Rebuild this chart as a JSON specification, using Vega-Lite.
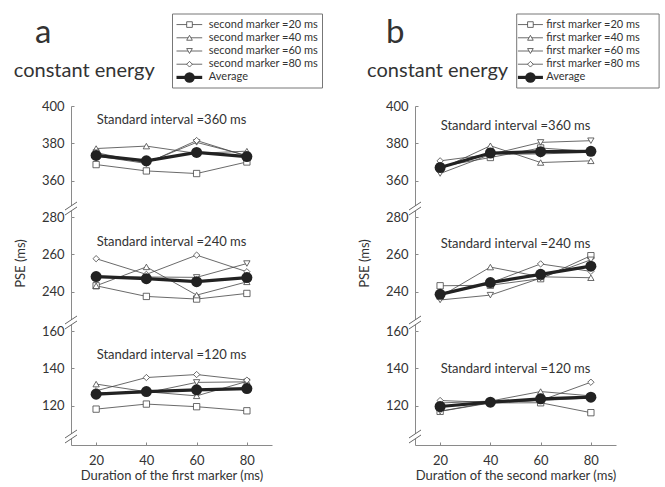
{
"$schema": "https://vega.github.io/schema/vega-lite/v6.json",
"padding": {"left": 13, "top": 13, "right": 2, "bottom": 2},
"config": {
  "font": "Lato",
  "view": {"stroke": null},
  "axis": {"domainColor": "#8a8a8a", "tickColor": "#8a8a8a", "tickSize": -3, "labelColor": "#333", "labelFont": "Lato", "labelFontSize": 13, "titleFont": "Lato", "titleFontSize": 13, "titleFontWeight": "normal", "titleColor": "#333", "grid": false, "labelFlush": false},
  "axisY": {"labelPadding": 10},
  "axisX": {"labelPadding": 12, "titlePadding": 2},
  "title": {"font": "Lato", "fontWeight": "normal", "color": "#333", "fontSize": 13, "anchor": "middle", "frame": "group"}
},
"datasets": {
  "lega": [
    {"m": "20", "label": "second marker =20 ms"},
    {"m": "40", "label": "second marker =40 ms"},
    {"m": "60", "label": "second marker =60 ms"},
    {"m": "80", "label": "second marker =80 ms"},
    {"m": "Average", "label": "Average"}
  ],
  "legb": [
    {"m": "20", "label": "first marker =20 ms"},
    {"m": "40", "label": "first marker =40 ms"},
    {"m": "60", "label": "first marker =60 ms"},
    {"m": "80", "label": "first marker =80 ms"},
    {"m": "Average", "label": "Average"}
  ],
  "pse": [
    {"p":"a","s":360,"m":"20","x":20,"v":368.6},{"p":"a","s":360,"m":"20","x":40,"v":365.2},{"p":"a","s":360,"m":"20","x":60,"v":363.8},{"p":"a","s":360,"m":"20","x":80,"v":370.0},
    {"p":"a","s":360,"m":"40","x":20,"v":377.2},{"p":"a","s":360,"m":"40","x":40,"v":378.5},{"p":"a","s":360,"m":"40","x":60,"v":374.6},{"p":"a","s":360,"m":"40","x":80,"v":375.8},
    {"p":"a","s":360,"m":"60","x":20,"v":375.0},{"p":"a","s":360,"m":"60","x":40,"v":369.5},{"p":"a","s":360,"m":"60","x":60,"v":380.5},{"p":"a","s":360,"m":"60","x":80,"v":373.5},
    {"p":"a","s":360,"m":"80","x":20,"v":373.2},{"p":"a","s":360,"m":"80","x":40,"v":369.2},{"p":"a","s":360,"m":"80","x":60,"v":381.5},{"p":"a","s":360,"m":"80","x":80,"v":373.1},
    {"p":"a","s":360,"m":"Average","x":20,"v":373.5},{"p":"a","s":360,"m":"Average","x":40,"v":370.6},{"p":"a","s":360,"m":"Average","x":60,"v":375.1},{"p":"a","s":360,"m":"Average","x":80,"v":372.9},

    {"p":"a","s":240,"m":"20","x":20,"v":243.2},{"p":"a","s":240,"m":"20","x":40,"v":237.5},{"p":"a","s":240,"m":"20","x":60,"v":236.1},{"p":"a","s":240,"m":"20","x":80,"v":239.1},
    {"p":"a","s":240,"m":"40","x":20,"v":243.2},{"p":"a","s":240,"m":"40","x":40,"v":253.3},{"p":"a","s":240,"m":"40","x":60,"v":238.2},{"p":"a","s":240,"m":"40","x":80,"v":245.3},
    {"p":"a","s":240,"m":"60","x":20,"v":248.3},{"p":"a","s":240,"m":"60","x":40,"v":247.9},{"p":"a","s":240,"m":"60","x":60,"v":247.7},{"p":"a","s":240,"m":"60","x":80,"v":255.1},
    {"p":"a","s":240,"m":"80","x":20,"v":257.7},{"p":"a","s":240,"m":"80","x":40,"v":249.3},{"p":"a","s":240,"m":"80","x":60,"v":259.6},{"p":"a","s":240,"m":"80","x":80,"v":250.7},
    {"p":"a","s":240,"m":"Average","x":20,"v":248.1},{"p":"a","s":240,"m":"Average","x":40,"v":247.0},{"p":"a","s":240,"m":"Average","x":60,"v":245.4},{"p":"a","s":240,"m":"Average","x":80,"v":247.6},

    {"p":"a","s":120,"m":"20","x":20,"v":118.2},{"p":"a","s":120,"m":"20","x":40,"v":120.9},{"p":"a","s":120,"m":"20","x":60,"v":119.5},{"p":"a","s":120,"m":"20","x":80,"v":117.3},
    {"p":"a","s":120,"m":"40","x":20,"v":131.6},{"p":"a","s":120,"m":"40","x":40,"v":127.5},{"p":"a","s":120,"m":"40","x":60,"v":125.3},{"p":"a","s":120,"m":"40","x":80,"v":133.0},
    {"p":"a","s":120,"m":"60","x":20,"v":127.0},{"p":"a","s":120,"m":"60","x":40,"v":126.9},{"p":"a","s":120,"m":"60","x":60,"v":132.5},{"p":"a","s":120,"m":"60","x":80,"v":132.8},
    {"p":"a","s":120,"m":"80","x":20,"v":128.0},{"p":"a","s":120,"m":"80","x":40,"v":135.1},{"p":"a","s":120,"m":"80","x":60,"v":136.7},{"p":"a","s":120,"m":"80","x":80,"v":133.7},
    {"p":"a","s":120,"m":"Average","x":20,"v":126.2},{"p":"a","s":120,"m":"Average","x":40,"v":127.6},{"p":"a","s":120,"m":"Average","x":60,"v":128.5},{"p":"a","s":120,"m":"Average","x":80,"v":129.2},

    {"p":"b","s":360,"m":"20","x":20,"v":367.5},{"p":"b","s":360,"m":"20","x":40,"v":372.4},{"p":"b","s":360,"m":"20","x":60,"v":377.5},{"p":"b","s":360,"m":"20","x":80,"v":375.6},
    {"p":"b","s":360,"m":"40","x":20,"v":366.1},{"p":"b","s":360,"m":"40","x":40,"v":378.7},{"p":"b","s":360,"m":"40","x":60,"v":369.7},{"p":"b","s":360,"m":"40","x":80,"v":370.6},
    {"p":"b","s":360,"m":"60","x":20,"v":363.8},{"p":"b","s":360,"m":"60","x":40,"v":374.0},{"p":"b","s":360,"m":"60","x":60,"v":380.5},{"p":"b","s":360,"m":"60","x":80,"v":381.4},
    {"p":"b","s":360,"m":"80","x":20,"v":370.6},{"p":"b","s":360,"m":"80","x":40,"v":374.1},{"p":"b","s":360,"m":"80","x":60,"v":374.3},{"p":"b","s":360,"m":"80","x":80,"v":375.2},
    {"p":"b","s":360,"m":"Average","x":20,"v":367.0},{"p":"b","s":360,"m":"Average","x":40,"v":374.8},{"p":"b","s":360,"m":"Average","x":60,"v":375.5},{"p":"b","s":360,"m":"Average","x":80,"v":375.7},

    {"p":"b","s":240,"m":"20","x":20,"v":243.2},{"p":"b","s":240,"m":"20","x":40,"v":243.5},{"p":"b","s":240,"m":"20","x":60,"v":247.0},{"p":"b","s":240,"m":"20","x":80,"v":259.3},
    {"p":"b","s":240,"m":"40","x":20,"v":237.4},{"p":"b","s":240,"m":"40","x":40,"v":253.2},{"p":"b","s":240,"m":"40","x":60,"v":248.0},{"p":"b","s":240,"m":"40","x":80,"v":247.5},
    {"p":"b","s":240,"m":"60","x":20,"v":235.6},{"p":"b","s":240,"m":"60","x":40,"v":238.2},{"p":"b","s":240,"m":"60","x":60,"v":247.3},{"p":"b","s":240,"m":"60","x":80,"v":257.1},
    {"p":"b","s":240,"m":"80","x":20,"v":238.2},{"p":"b","s":240,"m":"80","x":40,"v":244.7},{"p":"b","s":240,"m":"80","x":60,"v":254.9},{"p":"b","s":240,"m":"80","x":80,"v":250.9},
    {"p":"b","s":240,"m":"Average","x":20,"v":238.6},{"p":"b","s":240,"m":"Average","x":40,"v":244.9},{"p":"b","s":240,"m":"Average","x":60,"v":249.3},{"p":"b","s":240,"m":"Average","x":80,"v":253.7},

    {"p":"b","s":120,"m":"20","x":20,"v":117.0},{"p":"b","s":120,"m":"20","x":40,"v":121.5},{"p":"b","s":120,"m":"20","x":60,"v":121.6},{"p":"b","s":120,"m":"20","x":80,"v":116.3},
    {"p":"b","s":120,"m":"40","x":20,"v":121.5},{"p":"b","s":120,"m":"40","x":40,"v":122.5},{"p":"b","s":120,"m":"40","x":60,"v":127.6},{"p":"b","s":120,"m":"40","x":80,"v":125.3},
    {"p":"b","s":120,"m":"60","x":20,"v":117.1},{"p":"b","s":120,"m":"60","x":40,"v":121.8},{"p":"b","s":120,"m":"60","x":60,"v":122.8},{"p":"b","s":120,"m":"60","x":80,"v":124.2},
    {"p":"b","s":120,"m":"80","x":20,"v":122.8},{"p":"b","s":120,"m":"80","x":40,"v":121.8},{"p":"b","s":120,"m":"80","x":60,"v":122.8},{"p":"b","s":120,"m":"80","x":80,"v":132.6},
    {"p":"b","s":120,"m":"Average","x":20,"v":119.6},{"p":"b","s":120,"m":"Average","x":40,"v":121.9},{"p":"b","s":120,"m":"Average","x":60,"v":123.7},{"p":"b","s":120,"m":"Average","x":80,"v":124.6}
  ]
},
"spacing": 34,
"hconcat": [
  {
    "title": {"text": "a", "anchor": "start", "frame": "group", "fontSize": 33, "offset": 0, "dx": -36, "dy": 36},
    "spacing": 11,
    "vconcat": [
      {
        "width": 251.5, "height": 74,
        "data": {"name": "lega"},
        "title": {"text": "constant energy", "anchor": "start", "frame": "group", "fontSize": 20, "offset": 0, "dx": -57.2, "dy": 67.3},
        "layer": [
          {"data": {"values": [{}]}, "mark": {"type": "rect", "filled": false, "color": "#777", "strokeWidth": 1}, "encoding": {"x": {"datum": 0.4036, "type": "quantitative", "scale": {"domain": [0, 1]}, "axis": null}, "x2": {"datum": 1}}},
          {"transform": [{"filter": "datum.m !== 'Average'"}], "mark": {"type": "rule", "stroke": "#444", "strokeWidth": 0.8}, "encoding": {"x": {"datum": 0.4195, "type": "quantitative", "axis": null}, "x2": {"datum": 0.5217}, "y": {"field": "m", "type": "nominal", "scale": {"type": "point", "domain": ["20","40","60","80","Average"], "padding": 0.8}, "axis": null}}},
          {"transform": [{"filter": "datum.m === 'Average'"}], "mark": {"type": "rule", "stroke": "#222", "strokeWidth": 3.2}, "encoding": {"x": {"datum": 0.4195, "type": "quantitative", "axis": null}, "x2": {"datum": 0.5217}, "y": {"field": "m", "type": "nominal", "axis": null}}},
          {"transform": [{"filter": "datum.m !== 'Average'"}], "mark": {"type": "point", "filled": true, "fill": "white", "stroke": "#444", "strokeWidth": 0.8, "size": 32, "opacity": 1}, "encoding": {"x": {"datum": 0.4712, "type": "quantitative", "axis": null}, "y": {"field": "m", "type": "nominal", "axis": null}, "shape": {"field": "m", "type": "nominal", "scale": {"domain": ["20","40","60","80"], "range": ["square","triangle-up","triangle-down","diamond"]}, "legend": null}}},
          {"transform": [{"filter": "datum.m === 'Average'"}], "mark": {"type": "point", "shape": "circle", "filled": true, "fill": "#222", "size": 110, "opacity": 1}, "encoding": {"x": {"datum": 0.4712, "type": "quantitative", "axis": null}, "y": {"field": "m", "type": "nominal", "axis": null}}},
          {"mark": {"type": "text", "align": "left", "baseline": "middle", "fontSize": 11, "font": "Lato", "color": "#333"}, "encoding": {"x": {"datum": 0.5479, "type": "quantitative", "axis": null}, "y": {"field": "m", "type": "nominal", "axis": null}, "text": {"field": "label"}}}
        ]
      },
      {
        "spacing": 0, "bounds": "flush",
        "vconcat": [
          {
            "width": 201, "height": 111,
            "data": {"name": "pse"},
            "title": {"text": "Standard interval =360 ms", "offset": -26.5},
            "layer": [
              {"transform": [{"filter": "datum.p === 'a' && datum.s === 360 && datum.m !== 'Average'"}], "mark": {"type": "line", "stroke": "#444", "strokeWidth": 0.8},
               "encoding": {"x": {"field": "x", "type": "quantitative", "scale": {"domain": [10, 90]}, "axis": null}, "y": {"field": "v", "type": "quantitative", "scale": {"domain": [340.5, 400], "nice": false, "zero": false}, "axis": {"values": [360, 380, 400], "title": null}}, "detail": {"field": "m"}}},
              {"transform": [{"filter": "datum.p === 'a' && datum.s === 360 && datum.m !== 'Average'"}], "mark": {"type": "point", "filled": true, "fill": "white", "stroke": "#444", "strokeWidth": 0.8, "size": 40, "opacity": 1},
               "encoding": {"x": {"field": "x", "type": "quantitative", "axis": null}, "y": {"field": "v", "type": "quantitative", "axis": {"values": [360, 380, 400], "title": null}}, "shape": {"field": "m", "type": "nominal", "scale": {"domain": ["20","40","60","80"], "range": ["square","triangle-up","triangle-down","diamond"]}, "legend": null}}},
              {"transform": [{"filter": "datum.p === 'a' && datum.s === 360 && datum.m === 'Average'"}], "mark": {"type": "line", "stroke": "#222", "strokeWidth": 3.2},
               "encoding": {"x": {"field": "x", "type": "quantitative", "axis": null}, "y": {"field": "v", "type": "quantitative", "axis": {"values": [360, 380, 400], "title": null}}}},
              {"transform": [{"filter": "datum.p === 'a' && datum.s === 360 && datum.m === 'Average'"}], "mark": {"type": "point", "shape": "circle", "filled": true, "fill": "#222", "size": 121, "opacity": 1},
               "encoding": {"x": {"field": "x", "type": "quantitative", "axis": null}, "y": {"field": "v", "type": "quantitative", "axis": {"values": [360, 380, 400], "title": null}}}},
              {"data": {"values": [{}]}, "mark": {"type": "point", "shape": "M0,-0.42L0,0.42", "size": 144, "filled": false, "stroke": "white", "strokeWidth": 3, "opacity": 1},
               "encoding": {"x": {"datum": 10, "type": "quantitative", "axis": null}, "y": {"datum": 345.05, "type": "quantitative", "axis": {"values": [360, 380, 400], "title": null}}}},
              {"data": {"values": [{}]}, "mark": {"type": "point", "shape": "M-1,0.25L1,-1.083M-1,1.083L1,-0.25", "size": 144, "filled": false, "stroke": "#666", "strokeWidth": 1, "opacity": 1},
               "encoding": {"x": {"datum": 10, "type": "quantitative", "axis": null}, "y": {"datum": 345.05, "type": "quantitative", "axis": {"values": [360, 380, 400], "title": null}}}}
            ]
          },
          {
            "width": 201, "height": 114,
            "data": {"name": "pse"},
            "title": {"text": "Standard interval =240 ms", "offset": -37.7},
            "layer": [
              {"transform": [{"filter": "datum.p === 'a' && datum.s === 240 && datum.m !== 'Average'"}], "mark": {"type": "line", "stroke": "#444", "strokeWidth": 0.8},
               "encoding": {"x": {"field": "x", "type": "quantitative", "scale": {"domain": [10, 90]}, "axis": null}, "y": {"field": "v", "type": "quantitative", "scale": {"domain": [219, 280], "nice": false, "zero": false}, "axis": {"values": [240, 260, 280], "title": "PSE (ms)", "titleX": -44, "titleY": 46}}, "detail": {"field": "m"}}},
              {"transform": [{"filter": "datum.p === 'a' && datum.s === 240 && datum.m !== 'Average'"}], "mark": {"type": "point", "filled": true, "fill": "white", "stroke": "#444", "strokeWidth": 0.8, "size": 40, "opacity": 1},
               "encoding": {"x": {"field": "x", "type": "quantitative", "axis": null}, "y": {"field": "v", "type": "quantitative", "axis": {"values": [240, 260, 280], "title": "PSE (ms)", "titleX": -44, "titleY": 46}}, "shape": {"field": "m", "type": "nominal", "scale": {"domain": ["20","40","60","80"], "range": ["square","triangle-up","triangle-down","diamond"]}, "legend": null}}},
              {"transform": [{"filter": "datum.p === 'a' && datum.s === 240 && datum.m === 'Average'"}], "mark": {"type": "line", "stroke": "#222", "strokeWidth": 3.2},
               "encoding": {"x": {"field": "x", "type": "quantitative", "axis": null}, "y": {"field": "v", "type": "quantitative", "axis": {"values": [240, 260, 280], "title": "PSE (ms)", "titleX": -44, "titleY": 46}}}},
              {"transform": [{"filter": "datum.p === 'a' && datum.s === 240 && datum.m === 'Average'"}], "mark": {"type": "point", "shape": "circle", "filled": true, "fill": "#222", "size": 121, "opacity": 1},
               "encoding": {"x": {"field": "x", "type": "quantitative", "axis": null}, "y": {"field": "v", "type": "quantitative", "axis": {"values": [240, 260, 280], "title": "PSE (ms)", "titleX": -44, "titleY": 46}}}},
              {"data": {"values": [{}]}, "mark": {"type": "point", "shape": "M0,-0.42L0,0.42", "size": 144, "filled": false, "stroke": "white", "strokeWidth": 3, "opacity": 1},
               "encoding": {"x": {"datum": 10, "type": "quantitative", "axis": null}, "y": {"datum": 223.55, "type": "quantitative", "axis": {"values": [240, 260, 280], "title": "PSE (ms)", "titleX": -44, "titleY": 46}}}},
              {"data": {"values": [{}]}, "mark": {"type": "point", "shape": "M-1,0.25L1,-1.083M-1,1.083L1,-0.25", "size": 144, "filled": false, "stroke": "#666", "strokeWidth": 1, "opacity": 1},
               "encoding": {"x": {"datum": 10, "type": "quantitative", "axis": null}, "y": {"datum": 223.55, "type": "quantitative", "axis": {"values": [240, 260, 280], "title": "PSE (ms)", "titleX": -44, "titleY": 46}}}}
            ]
          },
          {
            "width": 201, "height": 114,
            "data": {"name": "pse"},
            "title": {"text": "Standard interval =120 ms", "offset": -36.5},
            "layer": [
              {"transform": [{"filter": "datum.p === 'a' && datum.s === 120 && datum.m !== 'Average'"}], "mark": {"type": "line", "stroke": "#444", "strokeWidth": 0.8},
               "encoding": {"x": {"field": "x", "type": "quantitative", "scale": {"domain": [10, 90]}, "axis": {"values": [20, 40, 60, 80], "title": "Duration of the first marker (ms)"}}, "y": {"field": "v", "type": "quantitative", "scale": {"domain": [99, 160], "nice": false, "zero": false}, "axis": {"values": [120, 140, 160], "title": null}}, "detail": {"field": "m"}}},
              {"transform": [{"filter": "datum.p === 'a' && datum.s === 120 && datum.m !== 'Average'"}], "mark": {"type": "point", "filled": true, "fill": "white", "stroke": "#444", "strokeWidth": 0.8, "size": 40, "opacity": 1},
               "encoding": {"x": {"field": "x", "type": "quantitative", "axis": {"values": [20, 40, 60, 80], "title": "Duration of the first marker (ms)"}}, "y": {"field": "v", "type": "quantitative", "axis": {"values": [120, 140, 160], "title": null}}, "shape": {"field": "m", "type": "nominal", "scale": {"domain": ["20","40","60","80"], "range": ["square","triangle-up","triangle-down","diamond"]}, "legend": null}}},
              {"transform": [{"filter": "datum.p === 'a' && datum.s === 120 && datum.m === 'Average'"}], "mark": {"type": "line", "stroke": "#222", "strokeWidth": 3.2},
               "encoding": {"x": {"field": "x", "type": "quantitative", "axis": {"values": [20, 40, 60, 80], "title": "Duration of the first marker (ms)"}}, "y": {"field": "v", "type": "quantitative", "axis": {"values": [120, 140, 160], "title": null}}}},
              {"transform": [{"filter": "datum.p === 'a' && datum.s === 120 && datum.m === 'Average'"}], "mark": {"type": "point", "shape": "circle", "filled": true, "fill": "#222", "size": 121, "opacity": 1},
               "encoding": {"x": {"field": "x", "type": "quantitative", "axis": {"values": [20, 40, 60, 80], "title": "Duration of the first marker (ms)"}}, "y": {"field": "v", "type": "quantitative", "axis": {"values": [120, 140, 160], "title": null}}}},
              {"data": {"values": [{}]}, "mark": {"type": "point", "shape": "M0,-0.42L0,0.42", "size": 144, "filled": false, "stroke": "white", "strokeWidth": 3, "opacity": 1},
               "encoding": {"x": {"datum": 10, "type": "quantitative", "axis": {"values": [20, 40, 60, 80], "title": "Duration of the first marker (ms)"}}, "y": {"datum": 103.55, "type": "quantitative", "axis": {"values": [120, 140, 160], "title": null}}}},
              {"data": {"values": [{}]}, "mark": {"type": "point", "shape": "M-1,0.25L1,-1.083M-1,1.083L1,-0.25", "size": 144, "filled": false, "stroke": "#666", "strokeWidth": 1, "opacity": 1},
               "encoding": {"x": {"datum": 10, "type": "quantitative", "axis": {"values": [20, 40, 60, 80], "title": "Duration of the first marker (ms)"}}, "y": {"datum": 103.55, "type": "quantitative", "axis": {"values": [120, 140, 160], "title": null}}}}
            ]
          }
        ]
      }
    ]
  },
  {
    "title": {"text": "b", "anchor": "start", "frame": "group", "fontSize": 33, "offset": 0, "dx": -29, "dy": 36},
    "spacing": 11,
    "vconcat": [
      {
        "width": 244.1, "height": 74,
        "data": {"name": "legb"},
        "title": {"text": "constant energy", "anchor": "start", "frame": "group", "fontSize": 20, "offset": 0, "dx": -47.9, "dy": 67.3},
        "layer": [
          {"data": {"values": [{}]}, "mark": {"type": "rect", "filled": false, "color": "#777", "strokeWidth": 1}, "encoding": {"x": {"datum": 0.4166, "type": "quantitative", "scale": {"domain": [0, 1]}, "axis": null}, "x2": {"datum": 1}}},
          {"transform": [{"filter": "datum.m !== 'Average'"}], "mark": {"type": "rule", "stroke": "#444", "strokeWidth": 0.8}, "encoding": {"x": {"datum": 0.4216, "type": "quantitative", "axis": null}, "x2": {"datum": 0.5241}, "y": {"field": "m", "type": "nominal", "scale": {"type": "point", "domain": ["20","40","60","80","Average"], "padding": 0.8}, "axis": null}}},
          {"transform": [{"filter": "datum.m === 'Average'"}], "mark": {"type": "rule", "stroke": "#222", "strokeWidth": 3.2}, "encoding": {"x": {"datum": 0.4216, "type": "quantitative", "axis": null}, "x2": {"datum": 0.5241}, "y": {"field": "m", "type": "nominal", "axis": null}}},
          {"transform": [{"filter": "datum.m !== 'Average'"}], "mark": {"type": "point", "filled": true, "fill": "white", "stroke": "#444", "strokeWidth": 0.8, "size": 32, "opacity": 1}, "encoding": {"x": {"datum": 0.4728, "type": "quantitative", "axis": null}, "y": {"field": "m", "type": "nominal", "axis": null}, "shape": {"field": "m", "type": "nominal", "scale": {"domain": ["20","40","60","80"], "range": ["square","triangle-up","triangle-down","diamond"]}, "legend": null}}},
          {"transform": [{"filter": "datum.m === 'Average'"}], "mark": {"type": "point", "shape": "circle", "filled": true, "fill": "#222", "size": 110, "opacity": 1}, "encoding": {"x": {"datum": 0.4728, "type": "quantitative", "axis": null}, "y": {"field": "m", "type": "nominal", "axis": null}}},
          {"mark": {"type": "text", "align": "left", "baseline": "middle", "fontSize": 11, "font": "Lato", "color": "#333"}, "encoding": {"x": {"datum": 0.5372, "type": "quantitative", "axis": null}, "y": {"field": "m", "type": "nominal", "axis": null}, "text": {"field": "label"}}}
        ]
      },
      {
        "spacing": 0, "bounds": "flush",
        "vconcat": [
          {
            "width": 201, "height": 111,
            "data": {"name": "pse"},
            "title": {"text": "Standard interval =360 ms", "offset": -32.5},
            "layer": [
              {"transform": [{"filter": "datum.p === 'b' && datum.s === 360 && datum.m !== 'Average'"}], "mark": {"type": "line", "stroke": "#444", "strokeWidth": 0.8},
               "encoding": {"x": {"field": "x", "type": "quantitative", "scale": {"domain": [10, 90]}, "axis": null}, "y": {"field": "v", "type": "quantitative", "scale": {"domain": [340.5, 400], "nice": false, "zero": false}, "axis": {"values": [360, 380, 400], "title": null}}, "detail": {"field": "m"}}},
              {"transform": [{"filter": "datum.p === 'b' && datum.s === 360 && datum.m !== 'Average'"}], "mark": {"type": "point", "filled": true, "fill": "white", "stroke": "#444", "strokeWidth": 0.8, "size": 40, "opacity": 1},
               "encoding": {"x": {"field": "x", "type": "quantitative", "axis": null}, "y": {"field": "v", "type": "quantitative", "axis": {"values": [360, 380, 400], "title": null}}, "shape": {"field": "m", "type": "nominal", "scale": {"domain": ["20","40","60","80"], "range": ["square","triangle-up","triangle-down","diamond"]}, "legend": null}}},
              {"transform": [{"filter": "datum.p === 'b' && datum.s === 360 && datum.m === 'Average'"}], "mark": {"type": "line", "stroke": "#222", "strokeWidth": 3.2},
               "encoding": {"x": {"field": "x", "type": "quantitative", "axis": null}, "y": {"field": "v", "type": "quantitative", "axis": {"values": [360, 380, 400], "title": null}}}},
              {"transform": [{"filter": "datum.p === 'b' && datum.s === 360 && datum.m === 'Average'"}], "mark": {"type": "point", "shape": "circle", "filled": true, "fill": "#222", "size": 121, "opacity": 1},
               "encoding": {"x": {"field": "x", "type": "quantitative", "axis": null}, "y": {"field": "v", "type": "quantitative", "axis": {"values": [360, 380, 400], "title": null}}}},
              {"data": {"values": [{}]}, "mark": {"type": "point", "shape": "M0,-0.42L0,0.42", "size": 144, "filled": false, "stroke": "white", "strokeWidth": 3, "opacity": 1},
               "encoding": {"x": {"datum": 10, "type": "quantitative", "axis": null}, "y": {"datum": 345.05, "type": "quantitative", "axis": {"values": [360, 380, 400], "title": null}}}},
              {"data": {"values": [{}]}, "mark": {"type": "point", "shape": "M-1,0.25L1,-1.083M-1,1.083L1,-0.25", "size": 144, "filled": false, "stroke": "#666", "strokeWidth": 1, "opacity": 1},
               "encoding": {"x": {"datum": 10, "type": "quantitative", "axis": null}, "y": {"datum": 345.05, "type": "quantitative", "axis": {"values": [360, 380, 400], "title": null}}}}
            ]
          },
          {
            "width": 201, "height": 114,
            "data": {"name": "pse"},
            "title": {"text": "Standard interval =240 ms", "offset": -39.5},
            "layer": [
              {"transform": [{"filter": "datum.p === 'b' && datum.s === 240 && datum.m !== 'Average'"}], "mark": {"type": "line", "stroke": "#444", "strokeWidth": 0.8},
               "encoding": {"x": {"field": "x", "type": "quantitative", "scale": {"domain": [10, 90]}, "axis": null}, "y": {"field": "v", "type": "quantitative", "scale": {"domain": [219, 280], "nice": false, "zero": false}, "axis": {"values": [240, 260, 280], "title": "PSE (ms)", "titleX": -44, "titleY": 46}}, "detail": {"field": "m"}}},
              {"transform": [{"filter": "datum.p === 'b' && datum.s === 240 && datum.m !== 'Average'"}], "mark": {"type": "point", "filled": true, "fill": "white", "stroke": "#444", "strokeWidth": 0.8, "size": 40, "opacity": 1},
               "encoding": {"x": {"field": "x", "type": "quantitative", "axis": null}, "y": {"field": "v", "type": "quantitative", "axis": {"values": [240, 260, 280], "title": "PSE (ms)", "titleX": -44, "titleY": 46}}, "shape": {"field": "m", "type": "nominal", "scale": {"domain": ["20","40","60","80"], "range": ["square","triangle-up","triangle-down","diamond"]}, "legend": null}}},
              {"transform": [{"filter": "datum.p === 'b' && datum.s === 240 && datum.m === 'Average'"}], "mark": {"type": "line", "stroke": "#222", "strokeWidth": 3.2},
               "encoding": {"x": {"field": "x", "type": "quantitative", "axis": null}, "y": {"field": "v", "type": "quantitative", "axis": {"values": [240, 260, 280], "title": "PSE (ms)", "titleX": -44, "titleY": 46}}}},
              {"transform": [{"filter": "datum.p === 'b' && datum.s === 240 && datum.m === 'Average'"}], "mark": {"type": "point", "shape": "circle", "filled": true, "fill": "#222", "size": 121, "opacity": 1},
               "encoding": {"x": {"field": "x", "type": "quantitative", "axis": null}, "y": {"field": "v", "type": "quantitative", "axis": {"values": [240, 260, 280], "title": "PSE (ms)", "titleX": -44, "titleY": 46}}}},
              {"data": {"values": [{}]}, "mark": {"type": "point", "shape": "M0,-0.42L0,0.42", "size": 144, "filled": false, "stroke": "white", "strokeWidth": 3, "opacity": 1},
               "encoding": {"x": {"datum": 10, "type": "quantitative", "axis": null}, "y": {"datum": 223.55, "type": "quantitative", "axis": {"values": [240, 260, 280], "title": "PSE (ms)", "titleX": -44, "titleY": 46}}}},
              {"data": {"values": [{}]}, "mark": {"type": "point", "shape": "M-1,0.25L1,-1.083M-1,1.083L1,-0.25", "size": 144, "filled": false, "stroke": "#666", "strokeWidth": 1, "opacity": 1},
               "encoding": {"x": {"datum": 10, "type": "quantitative", "axis": null}, "y": {"datum": 223.55, "type": "quantitative", "axis": {"values": [240, 260, 280], "title": "PSE (ms)", "titleX": -44, "titleY": 46}}}}
            ]
          },
          {
            "width": 201, "height": 114,
            "data": {"name": "pse"},
            "title": {"text": "Standard interval =120 ms", "offset": -51},
            "layer": [
              {"transform": [{"filter": "datum.p === 'b' && datum.s === 120 && datum.m !== 'Average'"}], "mark": {"type": "line", "stroke": "#444", "strokeWidth": 0.8},
               "encoding": {"x": {"field": "x", "type": "quantitative", "scale": {"domain": [10, 90]}, "axis": {"values": [20, 40, 60, 80], "title": "Duration of the second marker (ms)"}}, "y": {"field": "v", "type": "quantitative", "scale": {"domain": [99, 160], "nice": false, "zero": false}, "axis": {"values": [120, 140, 160], "title": null}}, "detail": {"field": "m"}}},
              {"transform": [{"filter": "datum.p === 'b' && datum.s === 120 && datum.m !== 'Average'"}], "mark": {"type": "point", "filled": true, "fill": "white", "stroke": "#444", "strokeWidth": 0.8, "size": 40, "opacity": 1},
               "encoding": {"x": {"field": "x", "type": "quantitative", "axis": {"values": [20, 40, 60, 80], "title": "Duration of the second marker (ms)"}}, "y": {"field": "v", "type": "quantitative", "axis": {"values": [120, 140, 160], "title": null}}, "shape": {"field": "m", "type": "nominal", "scale": {"domain": ["20","40","60","80"], "range": ["square","triangle-up","triangle-down","diamond"]}, "legend": null}}},
              {"transform": [{"filter": "datum.p === 'b' && datum.s === 120 && datum.m === 'Average'"}], "mark": {"type": "line", "stroke": "#222", "strokeWidth": 3.2},
               "encoding": {"x": {"field": "x", "type": "quantitative", "axis": {"values": [20, 40, 60, 80], "title": "Duration of the second marker (ms)"}}, "y": {"field": "v", "type": "quantitative", "axis": {"values": [120, 140, 160], "title": null}}}},
              {"transform": [{"filter": "datum.p === 'b' && datum.s === 120 && datum.m === 'Average'"}], "mark": {"type": "point", "shape": "circle", "filled": true, "fill": "#222", "size": 121, "opacity": 1},
               "encoding": {"x": {"field": "x", "type": "quantitative", "axis": {"values": [20, 40, 60, 80], "title": "Duration of the second marker (ms)"}}, "y": {"field": "v", "type": "quantitative", "axis": {"values": [120, 140, 160], "title": null}}}},
              {"data": {"values": [{}]}, "mark": {"type": "point", "shape": "M0,-0.42L0,0.42", "size": 144, "filled": false, "stroke": "white", "strokeWidth": 3, "opacity": 1},
               "encoding": {"x": {"datum": 10, "type": "quantitative", "axis": {"values": [20, 40, 60, 80], "title": "Duration of the second marker (ms)"}}, "y": {"datum": 103.55, "type": "quantitative", "axis": {"values": [120, 140, 160], "title": null}}}},
              {"data": {"values": [{}]}, "mark": {"type": "point", "shape": "M-1,0.25L1,-1.083M-1,1.083L1,-0.25", "size": 144, "filled": false, "stroke": "#666", "strokeWidth": 1, "opacity": 1},
               "encoding": {"x": {"datum": 10, "type": "quantitative", "axis": {"values": [20, 40, 60, 80], "title": "Duration of the second marker (ms)"}}, "y": {"datum": 103.55, "type": "quantitative", "axis": {"values": [120, 140, 160], "title": null}}}}
            ]
          }
        ]
      }
    ]
  }
]
}
